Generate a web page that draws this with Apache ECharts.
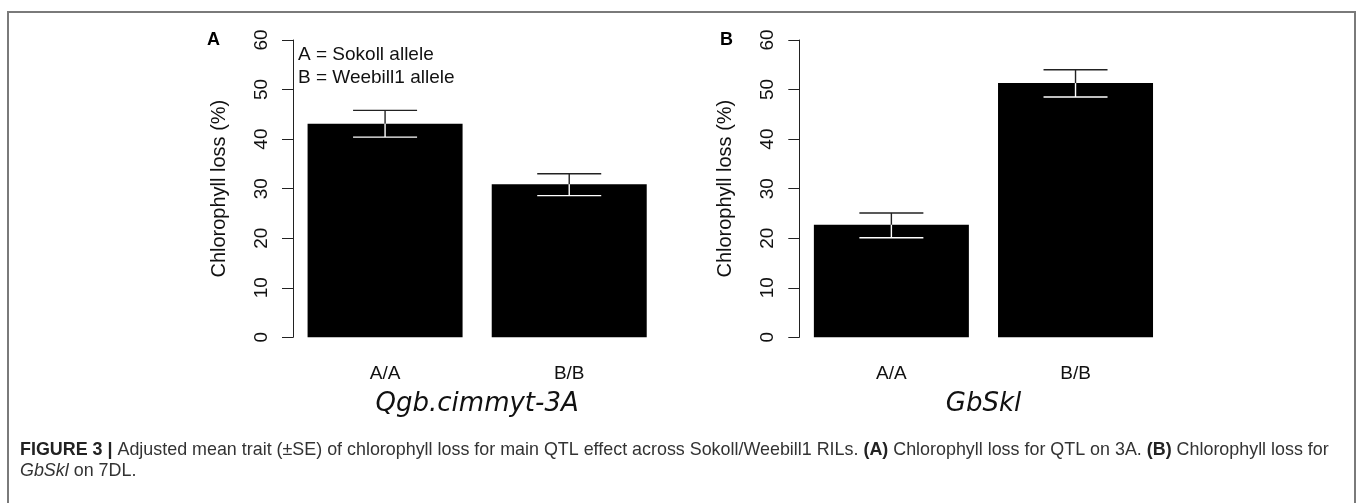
<!DOCTYPE html>
<html>
<head>
<meta charset="utf-8">
<script src="https://cdn.jsdelivr.net/npm/echarts@6/dist/echarts.min.js"></script>
<style>
  html, body { margin: 0; padding: 0; background: #fff; }
  #chart { width: 1360px; height: 503px; }
</style>
</head>
<body>
<div id="chart"></div>
<script>
// genotype classes on the x axis
const genotypes = ['A/A', 'B/B'];
// y axis: 0..60 step 10
const yMin = 0;
const yMax = 60;
const yStep = 10;

// panel A: Qgb.cimmyt-3A
const qtl3AMean = [43.1, 30.9];
const qtl3AUpper = [45.8, 33.0];
const qtl3ALower = [40.4, 28.6];

// panel B: GbSkl
const gbsklMean = [22.7, 51.3];
const gbsklUpper = [25.1, 54.0];
const gbsklLower = [20.1, 48.5];

const panelLetters = ['A', 'B'];
const panelNames = ['Qgb.cimmyt-3A', 'GbSkl'];
const legendLines = ['A = Sokoll allele', 'B = Weebill1 allele'];

const FONT = '"Liberation Sans", Arial, sans-serif';
const chart = echarts.init(document.getElementById('chart'));

// [index, upper, lower, mean] rows for the custom error bar series
function errRows(upper, lower, mean) {
  return genotypes.map((g, i) => [i, upper[i], lower[i], mean[i]]);
}

function renderErrorBar(params, api) {
  const i = api.value(0);
  const hi = api.coord([i, api.value(1)]);
  const lo = api.coord([i, api.value(2)]);
  const mid = api.coord([i, api.value(3)]);
  const half = 32;
  const dark = { stroke: '#222', lineWidth: 1.4 };
  const light = { stroke: '#fff', lineWidth: 1.4 };
  return {
    type: 'group',
    children: [
      { type: 'line', shape: { x1: hi[0], y1: hi[1], x2: mid[0], y2: mid[1] }, style: dark },
      { type: 'line', shape: { x1: hi[0] - half, y1: hi[1], x2: hi[0] + half, y2: hi[1] }, style: dark },
      { type: 'line', shape: { x1: mid[0], y1: mid[1], x2: lo[0], y2: lo[1] }, style: light },
      { type: 'line', shape: { x1: lo[0] - half, y1: lo[1], x2: lo[0] + half, y2: lo[1] }, style: light }
    ]
  };
}

function xAxisFor(idx) {
  return {
    type: 'category',
    gridIndex: idx,
    data: genotypes,
    boundaryGap: true,
    axisLine: { show: false },
    axisTick: { show: false },
    axisLabel: { color: '#111', fontSize: 19, fontFamily: FONT, margin: 27 },
    name: panelNames[idx],
    nameLocation: 'middle',
    nameGap: 54,
    nameTextStyle: { fontFamily: '"DejaVu Sans", sans-serif', fontStyle: 'italic', fontSize: 26, color: '#111' }
  };
}

function yAxisFor(idx) {
  return {
    type: 'value',
    gridIndex: idx,
    min: yMin,
    max: yMax,
    interval: yStep,
    splitLine: { show: false },
    axisLine: { show: true, lineStyle: { color: '#222', width: 1 } },
    axisTick: { show: true, length: 11, lineStyle: { color: '#222' } },
    axisLabel: { rotate: 90, color: '#111', fontSize: 19, fontFamily: FONT, margin: 22 },
    name: 'Chlorophyll loss (%)',
    nameLocation: 'middle',
    nameRotate: 90,
    nameGap: 64,
    nameTextStyle: { color: '#111', fontSize: 20, fontFamily: FONT }
  };
}

const option = {
  backgroundColor: '#fff',
  animation: false,
  grid: [
    { left: 293, top: 40, width: 368.3, height: 297.3 },
    { left: 799.3, top: 40, width: 368.3, height: 297.3 }
  ],
  xAxis: [xAxisFor(0), xAxisFor(1)],
  yAxis: [yAxisFor(0), yAxisFor(1)],
  series: [
    { type: 'bar', xAxisIndex: 0, yAxisIndex: 0, data: qtl3AMean, barWidth: 155, itemStyle: { color: '#000' } },
    { type: 'custom', xAxisIndex: 0, yAxisIndex: 0, data: errRows(qtl3AUpper, qtl3ALower, qtl3AMean), renderItem: renderErrorBar, z: 5 },
    { type: 'bar', xAxisIndex: 1, yAxisIndex: 1, data: gbsklMean, barWidth: 155, itemStyle: { color: '#000' } },
    { type: 'custom', xAxisIndex: 1, yAxisIndex: 1, data: errRows(gbsklUpper, gbsklLower, gbsklMean), renderItem: renderErrorBar, z: 5 }
  ],
  graphic: [
    // figure frame
    { type: 'polyline', shape: { points: [[8, 503], [8, 12], [1355, 12], [1355, 503]] }, style: { stroke: '#7a7a7a', lineWidth: 2, fill: null } },
    { type: 'text', left: 207, top: 31, style: { text: panelLetters[0], font: 'bold 18px ' + FONT, fill: '#000' } },
    { type: 'text', left: 720, top: 31, style: { text: panelLetters[1], font: 'bold 18px ' + FONT, fill: '#000' } },
    { type: 'text', left: 298, top: 44, style: { text: legendLines.join('\n'), font: '19px ' + FONT, lineHeight: 22.5, fill: '#111' } },
    {
      type: 'text', left: 20, top: 440,
      style: {
        text: '{b|FIGURE 3 | }{r|Adjusted mean trait (±SE) of chlorophyll loss for main QTL effect across Sokoll/Weebill1 RILs. }{b|(A) }{r|Chlorophyll loss for QTL on 3A. }{b|(B) }{r|Chlorophyll loss for}\n{i|GbSkl}{r| on 7DL.}',
        lineHeight: 21,
        rich: {
          b: { font: 'bold 17.9px ' + FONT, fill: '#222', lineHeight: 21 },
          r: { font: '17.9px ' + FONT, fill: '#333', lineHeight: 21 },
          i: { font: 'italic 17.9px ' + FONT, fill: '#333', lineHeight: 21 }
        }
      }
    }
  ]
};

chart.setOption(option);
</script>
</body>
</html>
